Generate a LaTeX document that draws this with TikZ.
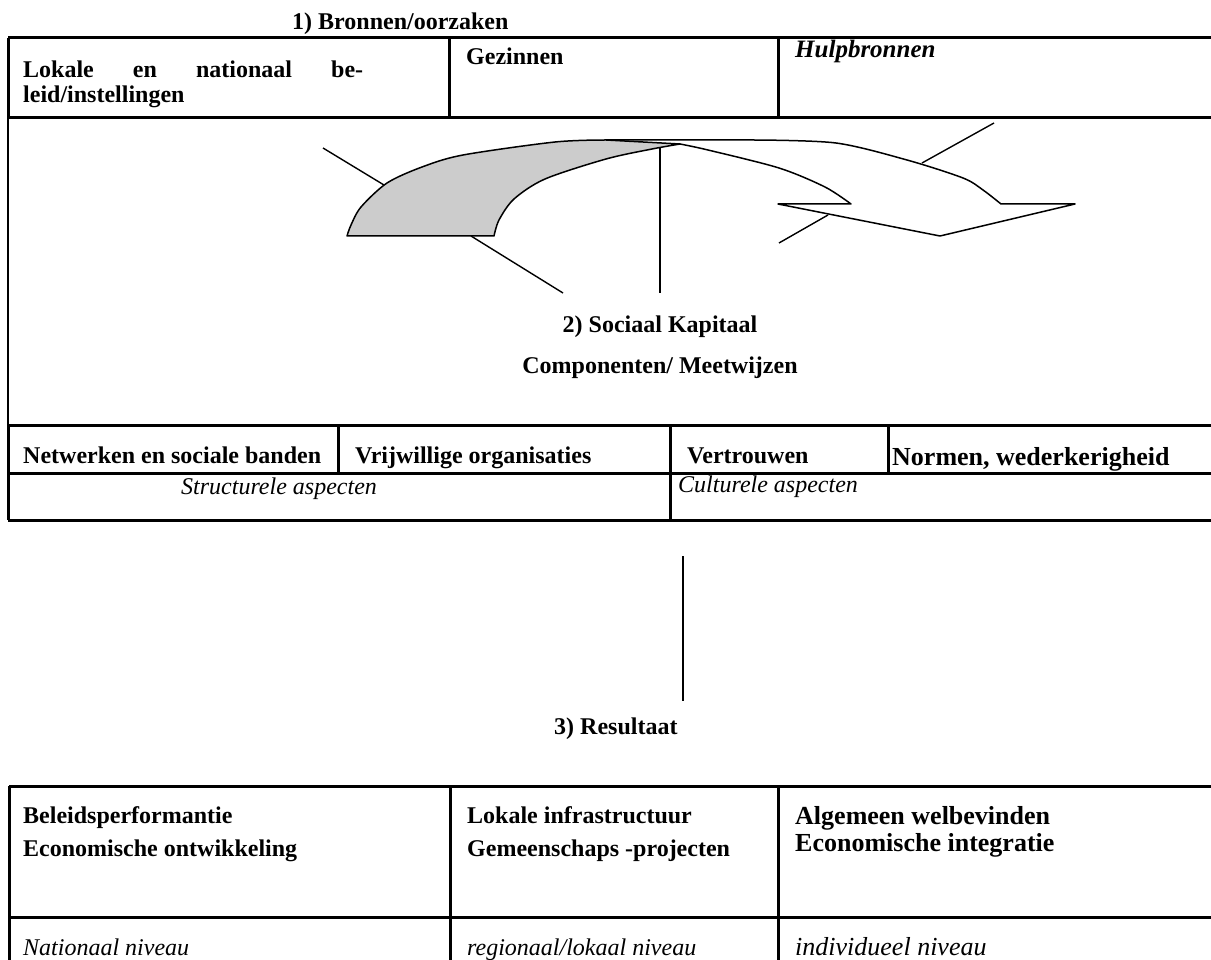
\documentclass[tikz,border=0pt]{standalone}
\usepackage{fontspec}
\setmainfont{Liberation Serif}
\usetikzlibrary{positioning}
\tikzstyle{lbl} = [inner sep=0pt, anchor=base west, font=\fontsize{24}{28}\selectfont\bfseries]
\tikzstyle{lblit} = [inner sep=0pt, anchor=base west, font=\fontsize{24}{28}\selectfont\itshape]
\tikzstyle{lblbig} = [inner sep=0pt, anchor=base west, font=\fontsize{26}{30}\selectfont\bfseries]
\tikzstyle{lblbigit} = [inner sep=0pt, anchor=base west, font=\fontsize{26}{30}\selectfont\itshape]
\tikzstyle{rule} = [line width=3pt]
\tikzstyle{thinrule} = [line width=1.8pt]
\tikzstyle{leader} = [line width=1.4pt]
\tikzstyle{band} = [line width=1.5pt, line join=round]

\begin{document}
\begin{tikzpicture}[x=1pt, y=-1pt]
  \useasboundingbox (0,0) rectangle (1211,960);
  \node[lbl] (title) at (292,30) {1) Bronnen/oorzaken};
  % top table
  \draw[rule] (8,38) -- (1215,38);
  \draw[rule] (8,38) -- (8,118);
  \draw[thinrule] (8,118) -- (8,425);
  \draw[rule] (8,425) -- (8,520);
  \draw[rule] (8,118) -- (1215,118);
  \draw[rule] (449,38) -- (449,118);
  \draw[rule] (778,38) -- (778,118);
  \draw[rule] (8,425) -- (1215,425);
  \draw[rule] (8,473) -- (1215,473);
  \draw[rule] (8,520) -- (1215,520);
  \draw[rule] (338,425) -- (338,473);
  \draw[rule] (670,425) -- (670,520);
  \draw[rule] (888,425) -- (888,473);
  \node[lbl] (lokale) at (23,78) {\makebox[340pt][s]{Lokale en nationaal be-}};
  \node[lbl] (beleid) at (23,103) {leid/instellingen};
  \node[lbl] (gezinnen) at (466,65) {Gezinnen};
  \node[lbl, font=\fontsize{25}{29}\selectfont\bfseries\itshape] (hulp) at (795,58) {Hulpbronnen};
  % arrow
  \filldraw[band, fill=black!20] plot[smooth] coordinates {(347,236) (351,225) (361,207) (387,183) (422,167) (463,155) (555,142) (606,140)}
    -- (680,144)
    -- plot[smooth] coordinates {(680,144) (652,149) (606,159) (545,179) (514,199) (499,220) (494,236)}
    -- cycle;
  \draw[band] (606,140) -- (754,140)
    -- plot[smooth] coordinates {(754,140) (836,143) (907,160) (963,178) (983,190) (1001,204)}
    -- (1075,204) -- (940,236) -- (778,204) -- (851,204)
    -- plot[smooth] coordinates {(851,204) (825,187) (779,168) (708,150) (680,144)};
  \coordinate (l1a) at (323,148);
  \coordinate (l1b) at (384,185);
  \coordinate (l2a) at (471,236);
  \coordinate (l2b) at (563,293);
  \coordinate (l3a) at (660,148);
  \coordinate (l3b) at (660,293);
  \coordinate (l4a) at (994,123);
  \coordinate (l4b) at (922,163);
  \coordinate (l5a) at (828,215);
  \coordinate (l5b) at (779,243);
  \draw[leader] (l1a) -- (l1b);
  \draw[leader] (l2a) -- (l2b);
  \draw[leader] (l3a) -- (l3b);
  \draw[leader] (l4a) -- (l4b);
  \draw[leader] (l5a) -- (l5b);
  \node[lbl, anchor=base] (sociaal) at (660,333) {2) Sociaal Kapitaal};
  \node[lbl, anchor=base] (comp) at (660,373) {Componenten/ Meetwijzen};
  \node[lbl] (netwerk) at (23,463) {Netwerken en sociale banden};
  \node[lbl] (vrijw) at (355,463) {Vrijwillige organisaties};
  \node[lbl] (vertrouw) at (687,463) {Vertrouwen};
  \node[lblbig] (normen) at (892,465) {Normen, wederkerigheid};
  \node[lblit] (struct) at (181,494) {Structurele aspecten};
  \node[lblit] (cultur) at (678,492) {Culturele aspecten};
  % result
  \coordinate (ctop) at (683,556);
  \coordinate (cbot) at (683,701);
  \draw[leader] (ctop) -- (cbot);
  \node[lbl] (resultaat) at (554,734) {3) Resultaat};
  % bottom table
  \draw[rule] (9,786) -- (1215,786);
  \draw[rule] (9,786) -- (9,965);
  \draw[rule] (9,917) -- (1215,917);
  \draw[rule] (450,786) -- (450,965);
  \draw[rule] (778,786) -- (778,965);
  \node[lbl] (perf) at (23,823) {Beleidsperformantie};
  \node[lbl] (econ) at (23,856) {Economische ontwikkeling};
  \node[lbl] (infra) at (467,823) {Lokale infrastructuur};
  \node[lbl] (gemeen) at (467,856) {Gemeenschaps -projecten};
  \node[lblbig] (welbev) at (795,824) {Algemeen welbevinden};
  \node[lblbig] (integr) at (795,851) {Economische integratie};
  \node[lblit] (nat) at (23,955) {Nationaal niveau};
  \node[lblit] (reg) at (467,955) {regionaal/lokaal niveau};
  \node[lblbigit] (indiv) at (795,955) {individueel niveau};
\end{tikzpicture}
\end{document}
